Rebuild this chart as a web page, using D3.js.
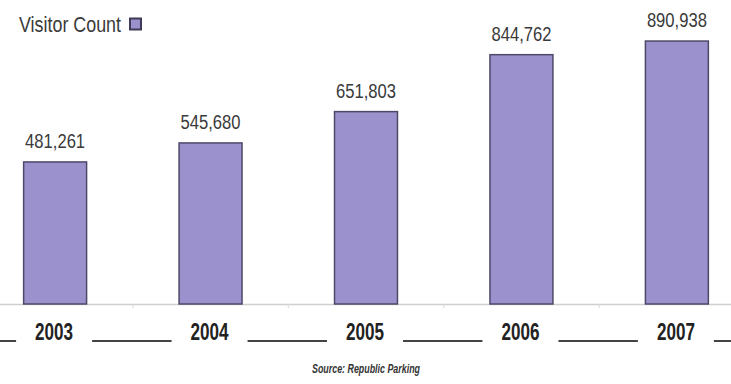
<!DOCTYPE html>
<html>
<head>
<meta charset="utf-8">
<script src="https://cdn.jsdelivr.net/npm/d3@7"></script>
<style>
  html, body { margin:0; padding:0; background:#fff; }
  svg { display:block; }
</style>
</head>
<body>
<div id="chart"></div>
<script>
// data
const years  = ['2003','2004','2005','2006','2007'];
const visitors = [481261, 545680, 651803, 844762, 890938];
const seriesName = 'Visitor Count';
const sourceText = 'Source: Republic Parking';

const W = 731, H = 384;
const baseY = 304;
const font = '"Liberation Sans", Arial, sans-serif';
const barFill = '#9b92cd', barStroke = '#4d4868';

const svg = d3.select('#chart').append('svg')
  .attr('width', W).attr('height', H);

const x = d3.scaleBand().domain(years).range([-23, 755]).paddingInner(0.595).paddingOuter(0.3);
const y = d3.scaleLinear().domain([0, 1030000]).range([baseY, 0]);

// condensed look: squeeze text to the widths seen in the picture
function squeeze(sel, w){
  return sel.attr('textLength', w).attr('lengthAdjust', 'spacingAndGlyphs');
}

// baseline + little ticks between bars
svg.append('line')
  .attr('x1', 0).attr('x2', W).attr('y1', baseY + 0.5).attr('y2', baseY + 0.5)
  .attr('stroke', '#cfcfcf').attr('stroke-width', 1.5);
years.slice(1).forEach(yr => {
  const bx = x(yr) - x.step() * x.paddingInner() / 2;
  svg.append('line')
    .attr('x1', bx).attr('x2', bx).attr('y1', baseY).attr('y2', baseY + 4)
    .attr('stroke', '#d8d8d8');
});

// bars
svg.selectAll('rect.bar').data(visitors).enter().append('rect')
  .attr('class', 'bar')
  .attr('x', (d, i) => x(years[i]))
  .attr('y', d => y(d))
  .attr('width', x.bandwidth())
  .attr('height', d => baseY - y(d))
  .attr('fill', barFill)
  .attr('stroke', barStroke)
  .attr('stroke-width', 1.5);

// value labels
svg.selectAll('text.val').data(visitors).enter().append('text')
  .attr('class', 'val')
  .attr('x', (d, i) => x(years[i]) + x.bandwidth() / 2)
  .attr('y', d => y(d) - 14)
  .attr('text-anchor', 'middle')
  .style('font-family', font).style('font-size', '20.5px')
  .attr('fill', '#3a3a3a')
  .text(d => d3.format(',')(d))
  .call(squeeze, 60);

// year row: dark rule broken by white boxes
svg.append('line')
  .attr('x1', 0).attr('x2', W).attr('y1', 341).attr('y2', 341)
  .attr('stroke', '#444').attr('stroke-width', 2);
years.forEach(yr => {
  const cx = x(yr) + x.bandwidth() / 2 - 1;
  svg.append('rect')
    .attr('x', cx - 38).attr('y', 316).attr('width', 76).attr('height', 30)
    .attr('fill', '#fff');
  svg.append('text')
    .attr('x', cx).attr('y', 340)
    .attr('text-anchor', 'middle')
    .style('font-family', font).style('font-size', '23px').style('font-weight', 'bold')
    .attr('fill', '#222')
    .text(yr)
    .call(squeeze, 38);
});

// legend
svg.append('text')
  .attr('x', 19).attr('y', 32)
  .style('font-family', font).style('font-size', '22px')
  .attr('fill', '#3a3a3a')
  .text(seriesName)
  .call(squeeze, 102);
svg.append('rect')
  .attr('x', 130).attr('y', 18.5).attr('width', 11).attr('height', 11)
  .attr('fill', barFill).attr('stroke', '#3e3a58').attr('stroke-width', 2);

// source
svg.append('text')
  .attr('x', 366).attr('y', 373)
  .attr('text-anchor', 'middle')
  .style('font-family', font).style('font-size', '12px')
  .style('font-weight', 'bold').style('font-style', 'italic')
  .attr('fill', '#333')
  .text(sourceText)
  .call(squeeze, 108);
</script>
</body>
</html>
